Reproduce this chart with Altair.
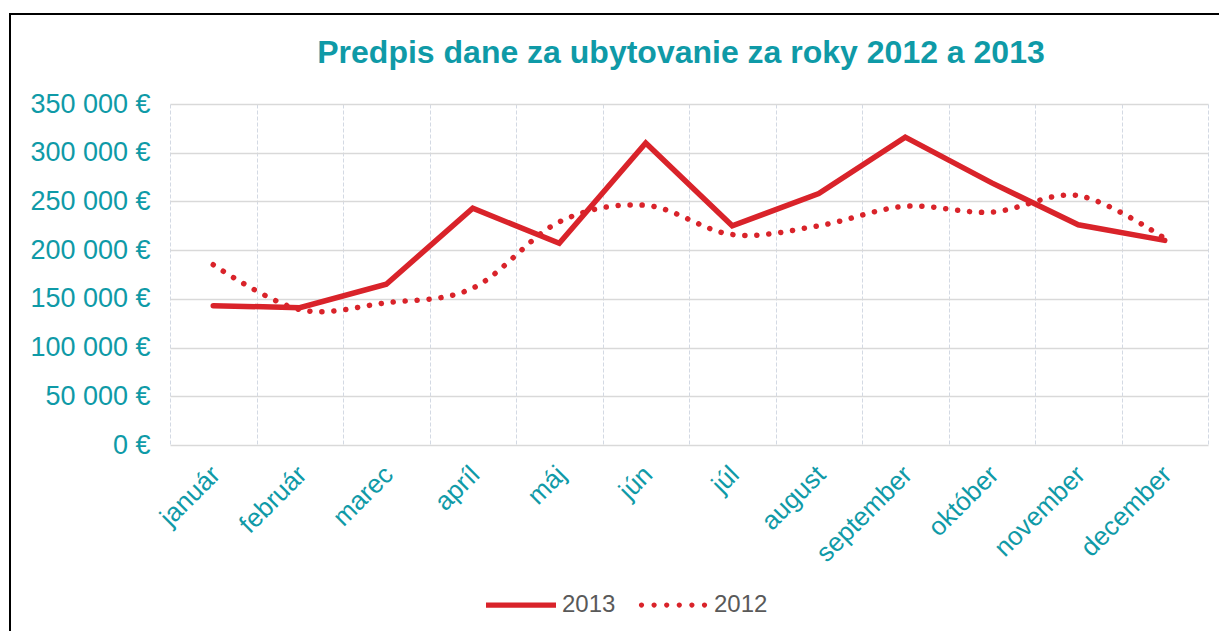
import altair as alt
import pandas as pd

months = ["január", "február", "marec", "apríl", "máj", "jún", "júl",
          "august", "september", "október", "november", "december"]
v2013 = [143000, 141000, 165000, 243000, 207000, 310000, 225000,
         258000, 316000, 269000, 226000, 210000]
v2012 = [185000, 139000, 146000, 161000, 229000, 246000, 216000,
         225000, 245000, 239000, 256000, 212000]
years = ["2013", "2012"]
y_ticks = [0, 50000, 100000, 150000, 200000, 250000, 300000, 350000]

rows = []
for m, a, b in zip(months, v2013, v2012):
    rows.append({"mesiac": m, "rok": "2013", "hodnota": a})
    rows.append({"mesiac": m, "rok": "2012", "hodnota": b})
df = pd.DataFrame(rows)

RED = "#d9232a"
TEAL = "#0f9aa7"
FONT = "Liberation Sans"

# legend symbol shapes (unit space, scaled by the symbol size)
SOLID_PATH = "M-1,-0.075 H1 V0.075 H-1 Z"
_r = 0.075
DOTS_PATH = " ".join(
    f"M{c - _r:.3f},0 a{_r},{_r} 0 1,0 {2 * _r},0 a{_r},{_r} 0 1,0 {-2 * _r},0"
    for c in [-0.9, -0.54, -0.18, 0.18, 0.54, 0.9]
)

x_enc = alt.X(
    "mesiac:N", sort=months, bandPosition=0.5,
    scale=alt.Scale(type="band", paddingInner=0, paddingOuter=0),
    axis=alt.Axis(title=None, labelAngle=-45, labelFontSize=26, labelColor=TEAL,
                  labelFont=FONT, labelPadding=16, labelOffset=-7,
                  tickBand="extent", ticks=False,
                  domain=False, grid=True, gridColor="#d3d9e3", gridDash=[4, 2],
                  gridWidth=1),
)
y_enc = alt.Y(
    "hodnota:Q",
    scale=alt.Scale(domain=[0, 350000], nice=False),
    axis=alt.Axis(title=None, values=y_ticks,
                  labelExpr="replace(format(datum.value, ',d'), ',', ' ') + ' €'",
                  labelFontSize=27, labelColor=TEAL, labelFont=FONT, labelPadding=20,
                  ticks=False, domain=False, gridColor="#d9d9d9", gridWidth=1.5),
)

one = pd.DataFrame({"a": [0]})
frame_left = alt.Chart(one).mark_rule(color="black", strokeWidth=2).encode(
    x=alt.value(-160), y=alt.value(-91), y2=alt.value(2000)
)
frame_top = alt.Chart(one).mark_rule(color="black", strokeWidth=2).encode(
    x=alt.value(-161), x2=alt.value(2000), y=alt.value(-90)
)

base = alt.Chart(df)
line13 = base.transform_filter(alt.datum.rok == "2013").mark_line(
    color=RED, strokeWidth=5.5, strokeCap="round"
).encode(x=x_enc, y=y_enc)
line12 = base.transform_filter(alt.datum.rok == "2012").mark_line(
    color=RED, strokeWidth=5.5, strokeCap="round", interpolate="cardinal",
    strokeDash=[0.1, 11.9]
).encode(x=x_enc, y=y_enc)

# legend-only layer: its points sit below the drawing, only the legend shows
legend_layer = base.mark_point(filled=True, color=RED, opacity=1).encode(
    x=alt.value(500), y=alt.value(1500),
    shape=alt.Shape(
        "rok:N",
        scale=alt.Scale(domain=years, range=[SOLID_PATH, DOTS_PATH]),
        legend=alt.Legend(title=None, orient="none", legendX=316, legendY=466,
                          direction="horizontal", symbolSize=4900,
                          symbolStrokeWidth=0, symbolFillColor=RED,
                          labelFontSize=24, labelFont=FONT, labelColor="#595959",
                          columnPadding=22, labelOffset=6),
    ),
)

chart = alt.layer(frame_left, frame_top, line13, line12, legend_layer).properties(
    width=1038, height=341,
    title=alt.Title("Predpis dane za ubytovanie za roky 2012 a 2013", fontSize=32,
                    font=FONT, fontWeight="bold", color=TEAL, anchor="middle",
                    frame="group", offset=-58, dx=-8),
    autosize=alt.AutoSizeParams(type="none"),
    padding={"left": 162, "top": 96, "right": 11, "bottom": 186},
    background="white",
).configure_view(stroke=None)

chart.save("out.html", embed_options={"renderer": "svg", "actions": False})
